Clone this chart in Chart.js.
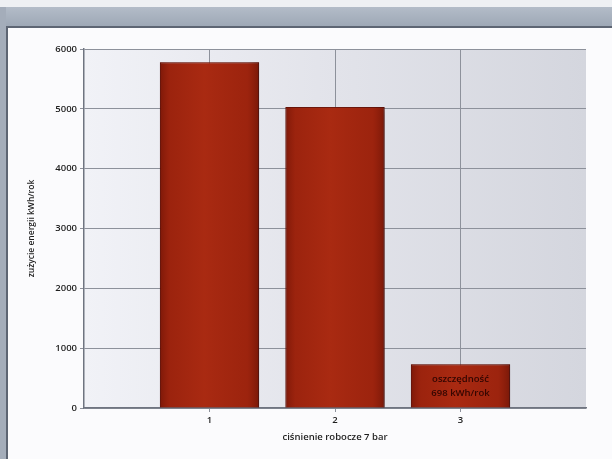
<!DOCTYPE html>
<html>
<head>
<meta charset="utf-8">
<script src="https://cdn.jsdelivr.net/npm/chart.js@4.4.1/dist/chart.umd.min.js"></script>
<style>
  html, body { margin:0; padding:0; }
  body { width:612px; height:459px; background:#eef0f3; position:relative; overflow:hidden; }
  #band { position:absolute; left:0; top:7px; width:612px; height:19px;
          background:linear-gradient(#b3bcc8,#9ea8b6); }
  #leftband { position:absolute; left:0; top:7px; width:6px; height:452px; background:#a4adba; }
  #panel { position:absolute; left:6px; top:26px; width:606px; height:433px;
           background:#fbfbfd; border-left:2px solid #5d6573; border-top:2px solid #5d6573; box-sizing:border-box; }
  #c { position:absolute; left:0; top:0; }
</style>
</head>
<body>
<div id="band"></div>
<div id="leftband"></div>
<div id="panel"></div>
<canvas id="c" width="612" height="459"></canvas>
<script>
const categories = [1, 2, 3];
const tickLabels = ['1', '2', '3'];
const yTicks = [0, 1000, 2000, 3000, 4000, 5000, 6000];
const energy = [5780, 5030, 730];
const barNotes = ['', '', 'oszczędność\n698 kWh/rok'];
const yTitle = 'zużycie energii kWh/rok';
const xTitle = 'ciśnienie robocze 7 bar';

const FONT = '"Open Sans", "Noto Sans", sans-serif';

const plotBg = {
  id: 'plotBg',
  beforeDraw(chart) {
    const {ctx, chartArea: a} = chart;
    const g = ctx.createLinearGradient(a.left, 0, a.right, 0);
    g.addColorStop(0, '#f1f2f7');
    g.addColorStop(0.5, '#e2e3ea');
    g.addColorStop(1, '#d4d6de');
    ctx.save();
    ctx.fillStyle = g;
    ctx.fillRect(a.left, a.top, a.right - a.left, a.bottom - a.top);
    ctx.restore();
  }
};

const barShade = {
  id: 'barShade',
  beforeDatasetsDraw(chart) {
    const ctx = chart.ctx;
    ctx.save();
    ctx.shadowColor = 'rgba(40,30,40,0.5)';
    ctx.shadowBlur = 8;
    ctx.shadowOffsetX = 5;
    ctx.shadowOffsetY = 1;
  },
  afterDatasetsDraw(chart) {
    const ctx = chart.ctx;
    ctx.restore();
    const meta = chart.getDatasetMeta(0);
    meta.data.forEach((el, i) => {
      const p = el.getProps(['x', 'y', 'base', 'width'], true);
      const l = p.x - p.width / 2, r = p.x + p.width / 2;
      const g = ctx.createLinearGradient(l, 0, r, 0);
      g.addColorStop(0, 'rgba(80,8,0,0.45)');
      g.addColorStop(0.1, 'rgba(110,15,5,0.12)');
      g.addColorStop(0.45, 'rgba(220,70,35,0.12)');
      g.addColorStop(0.88, 'rgba(110,15,5,0.1)');
      g.addColorStop(1, 'rgba(70,8,0,0.45)');
      ctx.save();
      ctx.fillStyle = g;
      ctx.fillRect(l, p.y, p.width, p.base - p.y);
      ctx.restore();
      if (barNotes[i]) {
        const lines = barNotes[i].split('\n');
        ctx.save();
        ctx.fillStyle = '#320602';
        ctx.font = '600 9.5px ' + FONT;
        ctx.textAlign = 'center';
        ctx.textBaseline = 'middle';
        const mid = (p.y + p.base) / 2;
        lines.forEach((t, k) => ctx.fillText(t, p.x, mid + (k - (lines.length - 1) / 2) * 14));
        ctx.restore();
      }
    });
  }
};

new Chart(document.getElementById('c'), {
  type: 'bar',
  data: {
    datasets: [{
      data: categories.map((c, i) => ({x: c, y: energy[i]})),
      backgroundColor: '#a2260f',
      borderColor: '#741407',
      borderWidth: 1,
      barPercentage: 0.79,
      categoryPercentage: 1
    }]
  },
  plugins: [plotBg, barShade],
  options: {
    responsive: false,
    animation: false,
    events: [],
    layout: { padding: { top: 49, right: 26, left: 22, bottom: 0 } },
    plugins: { legend: { display: false }, tooltip: { enabled: false } },
    scales: {
      x: {
        type: 'linear',
        min: 0, max: 4,
        offset: false,
        afterBuildTicks: s => { s.ticks = categories.map(v => ({value: v})); },
        afterFit: s => { s.height = 51; },
        ticks: {
          callback: (v) => tickLabels[categories.indexOf(v)] ?? '',
          color: '#1e1e1e',
          font: { family: FONT, size: 9.5, weight: '600' },
          padding: 3,
          maxRotation: 0, autoSkip: false
        },
        grid: { offset: false, color: '#8d919b', lineWidth: 1, tickLength: 4, drawTicks: true },
        border: { color: '#6f7480', width: 1.5 },
        title: {
          display: true, text: xTitle, color: '#1e1e1e',
          font: { family: FONT, size: 9.5, weight: '600' },
          padding: { top: 0, bottom: 16 }
        }
      },
      y: {
        min: 0, max: 6000,
        afterBuildTicks: s => { s.ticks = yTicks.map(v => ({value: v})); },
        afterFit: s => { s.width = 62; },
        ticks: {
          callback: v => String(v),
          color: '#1e1e1e',
          font: { family: FONT, size: 9.5, weight: '600' },
          padding: 3
        },
        grid: { color: '#8d919b', lineWidth: 1, tickLength: 4 },
        border: { color: '#6f7480', width: 1.5 },
        title: {
          display: true, text: yTitle, color: '#1e1e1e',
          font: { family: FONT, size: 8.5, weight: '600' },
          padding: { top: 4, bottom: 0 }
        }
      }
    }
  }
});
</script>
</body>
</html>
